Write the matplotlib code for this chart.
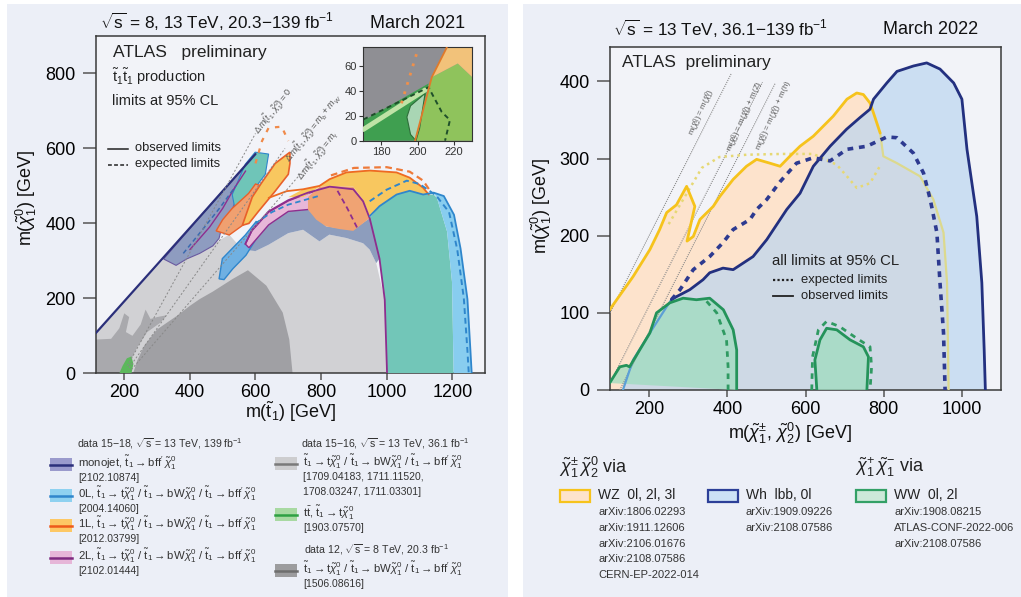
import matplotlib
matplotlib.use("Agg")
import matplotlib.pyplot as plt
from matplotlib.patches import Rectangle

W, H = 1021, 597
plt.rcParams['font.family'] = ['Liberation Sans', 'DejaVu Sans']
plt.rcParams['mathtext.fontset'] = 'custom'
plt.rcParams['mathtext.rm'] = 'Liberation Sans'
plt.rcParams['mathtext.it'] = 'Liberation Sans:italic'
plt.rcParams['mathtext.bf'] = 'Liberation Sans:bold'

# ---------------- data: left panel (stop pair production) ----------------
stop_xticks = [200, 400, 600, 800, 1000, 1200]
stop_yticks = [0, 200, 400, 600, 800]

light_gray_13tev = [(113, 0), (113, 107), (300, 285), (330, 312), (380, 320), (440, 345),
                    (480, 350), (520, 370), (560, 330), (600, 326), (640, 343), (700, 374),
                    (745, 383), (795, 352), (825, 370), (877, 361), (928, 347), (948, 330),
                    (968, 294), (994, 196), (1001, 0)]
dark_gray_8tev = [(227, 0), (240, 35), (262, 75), (300, 117), (330, 135), (360, 153), (400, 180),
                  (430, 198), (470, 218), (531, 252), (577, 275), (633, 234), (683, 162),
                  (703, 90), (713, 0)]
dark_gray_8tev_left = [(113, 0), (113, 90), (160, 92), (185, 120), (200, 160), (215, 150),
                       (205, 110), (225, 100), (250, 130), (265, 170), (280, 145), (300, 150),
                       (330, 155), (310, 135), (270, 110), (240, 70), (220, 35), (208, 0)]
monojet_band = [(320, 305), (358, 288), (390, 305), (430, 320), (470, 340), (489, 360),
                (500, 400), (530, 440), (560, 500), (590, 560), (600, 585), (565, 550), (450, 437)]
slate_band = [(560, 345), (600, 365), (640, 396), (700, 432), (760, 437), (815, 392), (898, 383),
              (948, 414), (958, 378), (978, 306), (968, 294), (948, 330), (928, 347), (877, 361),
              (825, 370), (795, 352), (745, 383), (700, 374), (640, 343), (600, 326), (560, 330)]
zeroL_mid = [(489, 252), (499, 306), (539, 342), (569, 369), (602, 405), (618, 400), (603, 360),
             (571, 315), (531, 279), (504, 250)]
twoL_band = [(569, 345), (589, 380), (640, 430), (700, 460), (760, 480), (826, 497), (840, 470),
             (815, 440), (760, 437), (700, 432), (640, 396), (580, 335)]
oneL_twoL = [(760, 470), (795, 498), (826, 500), (898, 498), (928, 462), (948, 414), (898, 380),
             (855, 385), (815, 392), (785, 410), (760, 437)]
oneL_right = [(700, 470), (745, 491), (795, 500), (826, 518), (877, 536), (948, 541), (1030, 536),
              (1070, 522), (1111, 495), (1128, 477), (1111, 477), (1070, 487), (1030, 477),
              (978, 446), (948, 419), (928, 462), (898, 498), (826, 500), (795, 498), (745, 470)]
zeroL_oneL = [(1001, 0), (994, 196), (978, 306), (958, 378), (948, 414), (978, 446), (1030, 477),
              (1070, 487), (1111, 477), (1143, 477), (1153, 468), (1184, 378), (1199, 243), (1204, 0)]
zeroL_right = [(1143, 482), (1174, 473), (1205, 423), (1225, 333), (1246, 198), (1255, 63),
               (1259, 0), (1204, 0), (1199, 243), (1184, 378), (1153, 468)]
teal_upper = [(529, 477), (569, 558), (599, 590), (640, 585), (630, 531), (599, 495), (569, 468),
              (539, 432)]
oneL_twoL_upper = [(480, 380), (500, 410), (529, 440), (579, 480), (600, 505), (620, 500),
                   (610, 450), (569, 400), (520, 369)]
oneL_upper = [(590, 470), (620, 510), (660, 560), (690, 580), (705, 590), (705, 560), (700, 531),
              (660, 486), (609, 432), (580, 400), (560, 395)]
ttbar_blob = [(185, 0), (195, 20), (208, 40), (222, 45), (228, 25), (222, 0)]

twoL_obs = [(1001, 0), (994, 196), (978, 306), (958, 378), (948, 414), (928, 459), (898, 491),
            (826, 498), (760, 482), (700, 462), (640, 432), (589, 382), (569, 345)]
twoL_obs_upper = [(400, 330), (460, 390), (500, 440), (532, 489), (570, 540)]
oneL_obs = [(640, 468), (695, 486), (745, 491), (795, 500), (826, 518), (877, 536), (948, 541),
            (1030, 536), (1070, 522), (1111, 495), (1128, 477)]
oneL_exp = [(830, 528), (900, 548), (1000, 550), (1070, 538), (1111, 514), (1135, 483)]
zeroL_obs = [(948, 419), (978, 446), (1030, 477), (1070, 487), (1111, 477), (1143, 482),
             (1174, 473), (1205, 423), (1225, 333), (1246, 198), (1255, 63), (1259, 0)]
zeroL_exp = [(948, 459), (1000, 490), (1061, 514), (1100, 505), (1150, 475), (1190, 430),
             (1215, 330), (1235, 200), (1246, 60), (1250, 0)]
zeroL_exp_upper = [(380, 320), (440, 385), (490, 440), (540, 500)]
twoL_exp = [(850, 487), (880, 440), (913, 383)]
zeroL_exp_mid = [(600, 400), (650, 430), (700, 450), (760, 465), (800, 475)]
oneL_exp_upper = [(600, 560), (620, 620), (640, 655), (680, 658), (700, 620)]

# kinematic boundaries: (x0, y0, x1, y1) and labels
stop_kin_lines = [(210, 20, 600, 640), (215, 15, 690, 600), (222, 10, 745, 540)]
stop_kin_labels = [(r'$\Delta\,m(\tilde{t}_1,\tilde{\chi}^0_1) = 0$', 655, 700),
                   (r'$\Delta\,m(\tilde{t}_1,\tilde{\chi}^0_1) = m_b + m_W$', 775, 655),
                   (r'$\Delta\,m(\tilde{t}_1,\tilde{\chi}^0_1) = m_t$', 790, 580)]

inset_green = [(198.5, 0), (207.7, 51), (222, 62), (230, 51), (230, 0)]
inset_orange = [(207.7, 51), (216, 75), (230, 75), (230, 51), (222, 62)]
inset_dark_green = [(170, 0), (170, 16), (206, 46), (198.5, 0)]
inset_light = [(194, 19), (196, 28), (204, 38), (201, 10), (199, 0), (196, 5)]
inset_strip = [(170, 9), (204, 40.7)]
inset_exp = [(170, 17), (206, 43), (207.7, 38), (213.2, 23), (217.7, 16.6), (215, 0)]
inset_orange_line = [(198.5, 0), (207.7, 51), (216, 75)]
inset_orange_exp = [(191, 30), (200, 73)]

# ---------------- data: right panel (electroweakinos) ----------------
ewk_xticks = [200, 400, 600, 800, 1000]
ewk_yticks = [0, 100, 200, 300, 400]

wz_obs = [(99, 0), (99, 104), (159, 147), (202, 182), (227, 208), (245, 230), (270, 240),
          (296, 264), (317, 238), (297, 193), (313, 199), (330, 221), (364, 238), (381, 251),
          (415, 273), (449, 290), (475, 299), (509, 294), (535, 290), (560, 303), (586, 316),
          (620, 329), (671, 355), (706, 377), (731, 385), (748, 383), (765, 372), (774, 359),
          (791, 333), (799, 303), (834, 294), (893, 277), (927, 247), (953, 204), (962, 139),
          (966, 0)]
wz_exp = [(250, 215), (300, 258), (335, 288), (380, 302), (450, 305), (540, 306), (620, 306),
          (680, 292), (706, 277), (731, 262), (765, 268), (790, 290)]
wh_obs = [(133, 0), (159, 39), (202, 74), (245, 108), (257, 117), (270, 121), (304, 130),
          (338, 143), (355, 152), (389, 158), (415, 156), (466, 173), (501, 195), (552, 234),
          (586, 255), (620, 290), (663, 316), (705, 338), (739, 353), (765, 364), (774, 377),
          (808, 398), (834, 413), (876, 420), (910, 424), (944, 416), (979, 398), (1000, 377),
          (1013, 312), (1038, 225), (1051, 139), (1057, 52), (1060, 0)]
wh_exp = [(257, 117), (279, 130), (313, 156), (355, 173), (389, 191), (415, 208), (458, 221),
          (475, 234), (501, 247), (535, 270), (577, 294), (620, 301), (663, 297), (706, 312),
          (757, 316), (808, 328), (834, 327), (876, 307), (902, 281), (919, 247), (936, 204),
          (944, 139), (953, 74), (957, 0)]
ww_obs_low = [(99, 9), (125, 30), (142, 32), (150, 30), (176, 52), (202, 74), (219, 100),
              (253, 113), (287, 119), (321, 117), (355, 119), (390, 104), (415, 78), (424, 52),
              (424, 0)]
ww_exp_low = [(347, 115), (373, 100), (398, 65), (402, 30), (402, 0)]
ww_obs_high = [(629, 0), (624, 39), (637, 65), (654, 80), (680, 78), (714, 65), (748, 56),
               (761, 43), (757, 0)]
ww_exp_high = [(616, 0), (618, 43), (633, 78), (654, 89), (688, 82), (731, 67), (765, 56),
               (769, 30), (765, 0)]

# neutralino mass splittings: (x0, x1, delta m) and labels
ewk_kin_lines = [(100, 410, 0), (91, 490, 91), (125, 522, 125)]
ewk_kin_labels = [(r'm($\tilde{\chi}^0_2$) = m($\tilde{\chi}^0_1$)', 335, 360),
                  (r'm($\tilde{\chi}^0_2$) = m($\tilde{\chi}^0_1$) + m(Z)', 447, 355),
                  (r'm($\tilde{\chi}^0_2$) = m($\tilde{\chi}^0_1$) + m(h)', 520, 355)]


def px(x, y):
    return x / W, 1 - y / H


def poly(ax, pts, fc, ec='none', lw=0, z=1, alpha=1.0):
    xs, ys = zip(*pts)
    ax.fill(xs, ys, fc=fc, ec=ec, lw=lw, zorder=z, alpha=alpha)


def curve(ax, pts, c, lw=1.5, ls='-', z=6):
    xs, ys = zip(*pts)
    ax.plot(xs, ys, color=c, lw=lw, ls=ls, zorder=z, solid_capstyle='round')


def text(s, x, y, size=8, **kw):
    fig.text(*px(x, y), s, fontsize=size, va='center', **kw)


def hline(x0, x1, y, **kw):
    fig.add_artist(plt.Line2D([x0 / W, x1 / W], [1 - y / H] * 2, zorder=4, **kw))


def style_axes(ax, xt, yt):
    ax.set_facecolor('#f2f3f8')
    for sp in ax.spines.values():
        sp.set_color('#3a3a3a')
        sp.set_linewidth(1.1)
    ax.set_xticks(xt)
    ax.set_yticks(yt)
    ax.tick_params(axis='y', direction='out', length=9.5, width=1.1, color='#555555',
                   labelsize=13, pad=5)
    ax.tick_params(axis='x', direction='out', length=5, width=1.1, color='#555555',
                   labelsize=13, pad=3)


fig = plt.figure(figsize=(W / 100, H / 100), dpi=100)
fig.patch.set_facecolor('white')
panel = '#eceff7'
for x0, w in [(7, 501), (523, 498)]:
    fig.patches.append(Rectangle(px(x0, 597), w / W, 593 / H, transform=fig.transFigure,
                                 fc=panel, ec='none', zorder=-5))

# ---------------- left panel ----------------
axL = fig.add_axes([95.7 / W, 1 - 373.3 / H, 388.8 / W, 337.3 / H])
style_axes(axL, stop_xticks, stop_yticks)
axL.set_xlim(113, 1298)
axL.set_ylim(0, 900)

poly(axL, light_gray_13tev, '#d1d1d4', z=1)
poly(axL, dark_gray_8tev_left, '#a9a9ad', z=2)
poly(axL, dark_gray_8tev, '#a0a0a4', z=2)
poly(axL, monojet_band, '#8e9cc0', ec='#6a5aa0', lw=0.8, z=3)
poly(axL, slate_band, '#8d9dbd', z=3)
poly(axL, zeroL_mid, '#6fb0e2', ec='#2f86cc', lw=1.0, z=4)
poly(axL, twoL_band, '#e8b7d8', ec='#8e2e8e', lw=1.0, z=4)
poly(axL, oneL_twoL, '#f0a373', z=4)
poly(axL, oneL_right, '#f8c75f', z=4)
poly(axL, zeroL_oneL, '#72c6b8', z=4)
poly(axL, zeroL_right, '#88cdef', z=4)
poly(axL, teal_upper, '#6fc5b8', ec='#2f86cc', lw=0.8, z=5)
poly(axL, oneL_twoL_upper, '#f0a070', ec='#e8602a', lw=1.0, z=5)
poly(axL, oneL_upper, '#f8c75f', ec='#e8602a', lw=1.2, z=5)
poly(axL, ttbar_blob, '#5cb85c', z=5)

curve(axL, [(113, 107), (300, 290), (450, 437), (600, 585)], '#2b2f7a', lw=1.6, z=7)
curve(axL, twoL_obs, '#8e2e8e', lw=1.3)
curve(axL, twoL_obs_upper, '#8e2e8e', lw=1.0)
curve(axL, oneL_obs, '#ee6a22', lw=1.3)
curve(axL, zeroL_obs, '#2f86cc', lw=1.3)
curve(axL, oneL_exp, '#ee7a3a', lw=1.6, ls=(0, (3, 2)))
curve(axL, zeroL_exp, '#2f86cc', lw=1.4, ls=(0, (3, 2)))
curve(axL, zeroL_exp_upper, '#3a6ab0', lw=1.1, ls=(0, (3, 2)))
curve(axL, twoL_exp, '#8e2e8e', lw=1.3, ls=(0, (3, 2)))
curve(axL, zeroL_exp_mid, '#2f86cc', lw=1.3, ls=(0, (3, 2)))
curve(axL, oneL_exp_upper, '#f08a4a', lw=1.6, ls=(0, (2, 3)))

for (x0, y0, x1, y1) in stop_kin_lines:
    axL.plot([x0, x1], [y0, y1], color='#888888', lw=0.7, ls=(0, (2, 2)), zorder=8)
for s, x, y in stop_kin_labels:
    axL.text(x, y, s, fontsize=6.5, color='#555555', rotation=52, ha='center', va='center', zorder=9)

text('ATLAS   preliminary', 113, 52, 12.5, color='#222222')
text(r'$\tilde{\mathrm{t}}_1\tilde{\mathrm{t}}_1$ production', 112, 77, 10.5, color='#222222')
text('limits at 95% CL', 112, 101, 10.5, color='#222222')
hline(108, 128, 149, color='#222222', lw=1.1)
hline(108, 128, 165, color='#222222', lw=1.1, ls=(0, (2.5, 1.5)))
text('observed limits', 135, 148, 9.3, color='#222222')
text('expected limits', 135, 164, 9.3, color='#222222')

text(r'$\sqrt{\mathrm{s}}$ = 8, 13 TeV, 20.3$-$139 fb$^{-1}$', 100, 22, 12.3, color='#111111')
text('March 2021', 370, 24, 13, color='#111111')
text(r'm($\tilde{\mathrm{t}}_1$) [GeV]', 291, 412, 13, ha='center', color='#111111')
fig.text(*px(26, 198), r'm($\tilde{\chi}^0_1$) [GeV]', fontsize=13, rotation=90,
         ha='center', va='center', color='#111111')

# inset
axI = fig.add_axes([363.3 / W, 1 - 140.7 / H, 109 / W, 93.4 / H])
axI.set_facecolor('#8f8f94')
axI.set_xlim(170, 230)
axI.set_ylim(0, 75)
poly(axI, inset_green, '#8fc35c', z=1)
poly(axI, inset_orange, '#f2c27a', z=1)
poly(axI, inset_dark_green, '#3f9f50', z=2)
poly(axI, inset_light, '#a9d6b4', ec='#2e6e3a', lw=0.8, z=3)
curve(axI, inset_strip, '#bfe3a6', lw=3.5, z=3)
curve(axI, inset_exp, '#1f4f2a', lw=1.4, ls=(0, (2.5, 2)), z=4)
curve(axI, inset_orange_line, '#e07a2a', lw=1.3, z=4)
curve(axI, inset_orange_exp, '#f0904a', lw=2.0, ls=(0, (1, 2.5)), z=4)
axI.set_xticks([180, 200, 220])
axI.set_yticks([0, 20, 40, 60])
axI.tick_params(direction='out', length=3, width=0.8, labelsize=8, pad=1.5, colors='#333333')
for sp in axI.spines.values():
    sp.set_color('#333333')

# left legend
decay = (r'$\tilde{\mathrm{t}}_1 \rightarrow \mathrm{t}\tilde{\chi}^0_1$ / '
         r'$\tilde{\mathrm{t}}_1 \rightarrow \mathrm{bW}\tilde{\chi}^0_1$ / '
         r'$\tilde{\mathrm{t}}_1 \rightarrow \mathrm{bff}^{\prime}\,\tilde{\chi}^0_1$')
legend_left = [
    (50, 458, '#9a9acc', '#2b2f7a', r'monojet, $\tilde{\mathrm{t}}_1 \rightarrow \mathrm{bff}^{\prime}\,\tilde{\chi}^0_1$', ['[2102.10874]']),
    (50, 489, '#8ed1f0', '#2f86cc', '0L, ' + decay, ['[2004.14060]']),
    (50, 519, '#fdc865', '#ee5a1a', '1L, ' + decay, ['[2012.03799]']),
    (50, 551, '#e6b6d8', '#7e2a80', '2L, ' + decay, ['[2102.01444]']),
    (275, 457, '#cdcdcf', '#7a7a7a', decay, ['[1709.04183, 1711.11520,', '1708.03247, 1711.03301]']),
    (275, 508, '#a8d9a2', '#2ea043', r't$\bar{\mathrm{t}}$, $\tilde{\mathrm{t}}_1 \rightarrow \mathrm{t}\tilde{\chi}^0_1$', ['[1903.07570]']),
    (275, 564, '#9c9c9e', '#6e6e6e', decay, ['[1506.08616]']),
]
for x, y, fc, lc, label, refs in legend_left:
    fig.patches.append(Rectangle(px(x, y + 13), 22 / W, 13 / H, transform=fig.transFigure,
                                 fc=fc, ec='none', zorder=2))
    hline(x, x + 22, y + 6.5, color=lc, lw=1.8)
    text(label, x + 28, y + 5, 8.2, color='#333333')
    for i, r in enumerate(refs):
        text(r, x + 28, y + 20 + 15 * i, 7.5, color='#333333')
text(r'data 15$-$18, $\sqrt{\mathrm{s}}$ = 13 TeV, 139 fb$^{-1}$', 77, 444, 7.6, color='#333333')
text(r'data 15$-$16, $\sqrt{\mathrm{s}}$ = 13 TeV, 36.1 fb$^{-1}$', 301, 444, 7.6, color='#333333')
text(r'data 12, $\sqrt{\mathrm{s}}$ = 8 TeV, 20.3 fb$^{-1}$', 304, 550, 7.6, color='#333333')

# ---------------- right panel ----------------
axR = fig.add_axes([610 / W, 1 - 390 / H, 391 / W, 343.3 / H])
style_axes(axR, ewk_xticks, ewk_yticks)
axR.set_xlim(100, 1100)
axR.set_ylim(0, 445)

poly(axR, wz_obs, '#fde3cc', z=1)
poly(axR, wh_obs, '#bcd6f0', z=2, alpha=0.72)
poly(axR, ww_obs_low, '#9fdcbf', z=3, alpha=0.75)
poly(axR, ww_obs_high, '#9fdcbf', z=3, alpha=0.75)

for (x0, x1, dm) in ewk_kin_lines:
    axR.plot([x0, x1], [x0 - dm, x1 - dm], color='#8a8a8a', lw=0.8, ls=(0, (1, 1)), zorder=4)
for s, x, y in ewk_kin_labels:
    axR.text(x, y, s, fontsize=5.8, color='#555555', rotation=66, ha='center', va='center', zorder=5)

curve(axR, wz_exp, '#e6d874', lw=1.8, ls=(0, (1, 1.6)), z=5)
curve(axR, wz_obs[1:29], '#f6c31c', lw=2.0, z=6)
curve(axR, wz_obs[28:], '#dcd98e', lw=1.6, z=5)
curve(axR, wh_obs[:5], '#5c9fd6', lw=1.6, z=6)
curve(axR, wh_obs[4:], '#23307f', lw=2.0, z=7)
curve(axR, wh_exp, '#2d3a90', lw=2.6, ls=(0, (1.6, 1.6)), z=7)
curve(axR, ww_obs_low, '#24935a', lw=2.0, z=8)
curve(axR, ww_obs_high, '#24935a', lw=2.0, z=8)
curve(axR, ww_exp_low, '#2f9a62', lw=2.0, ls=(0, (2, 2)), z=8)
curve(axR, ww_exp_high, '#2f9a62', lw=2.0, ls=(0, (2, 2)), z=8)

text(r'$\sqrt{\mathrm{s}}$ = 13 TeV, 36.1$-$139 fb$^{-1}$', 613, 29, 12.3, color='#111111')
text('March 2022', 883, 30, 13, color='#111111')
text('ATLAS  preliminary', 622, 62, 12.5, color='#222222')
text('all limits at 95% CL', 772, 261, 10.7, color='#222222')
hline(773, 793, 280, color='#222222', lw=1.6, ls=(0, (1, 1)))
hline(773, 793, 296, color='#222222', lw=1.3)
text('expected limits', 801, 280, 9.4, color='#222222')
text('observed limits', 801, 296, 9.4, color='#222222')
text(r'm($\tilde{\chi}^{\pm}_1$, $\tilde{\chi}^0_2$) [GeV]', 790, 433, 13, ha='center', color='#111111')
fig.text(*px(541, 206), r'm($\tilde{\chi}^0_1$) [GeV]', fontsize=13, rotation=90,
         ha='center', va='center', color='#111111')

# right legend
text(r'$\tilde{\chi}^{\pm}_1\,\tilde{\chi}^0_2$ via', 559, 467, 13, color='#222222')
text(r'$\tilde{\chi}^{+}_1\,\tilde{\chi}^{-}_1$ via', 855, 467, 13, color='#222222')
legend_right = [
    (560, '#fde3cc', '#f6c31c', 'WZ  0l, 2l, 3l',
     ['arXiv:1806.02293', 'arXiv:1911.12606', 'arXiv:2106.01676', 'arXiv:2108.07586', 'CERN-EP-2022-014']),
    (708, '#cce2f6', '#2c3f98', 'Wh  lbb, 0l', ['arXiv:1909.09226', 'arXiv:2108.07586']),
    (856, '#cce9d9', '#33a066', 'WW  0l, 2l', ['arXiv:1908.08215', 'ATLAS-CONF-2022-006', 'arXiv:2108.07586']),
]
for x, fc, ec, label, refs in legend_right:
    fig.patches.append(Rectangle(px(x, 502), 30 / W, 12 / H, transform=fig.transFigure,
                                 fc=fc, ec=ec, lw=1.6, zorder=2))
    text(label, x + 38, 495, 10, color='#222222')
    for i, r in enumerate(refs):
        text(r, x + 38, 512 + 15.8 * i, 8, color='#333333')

fig.savefig('out.png', dpi=100)
